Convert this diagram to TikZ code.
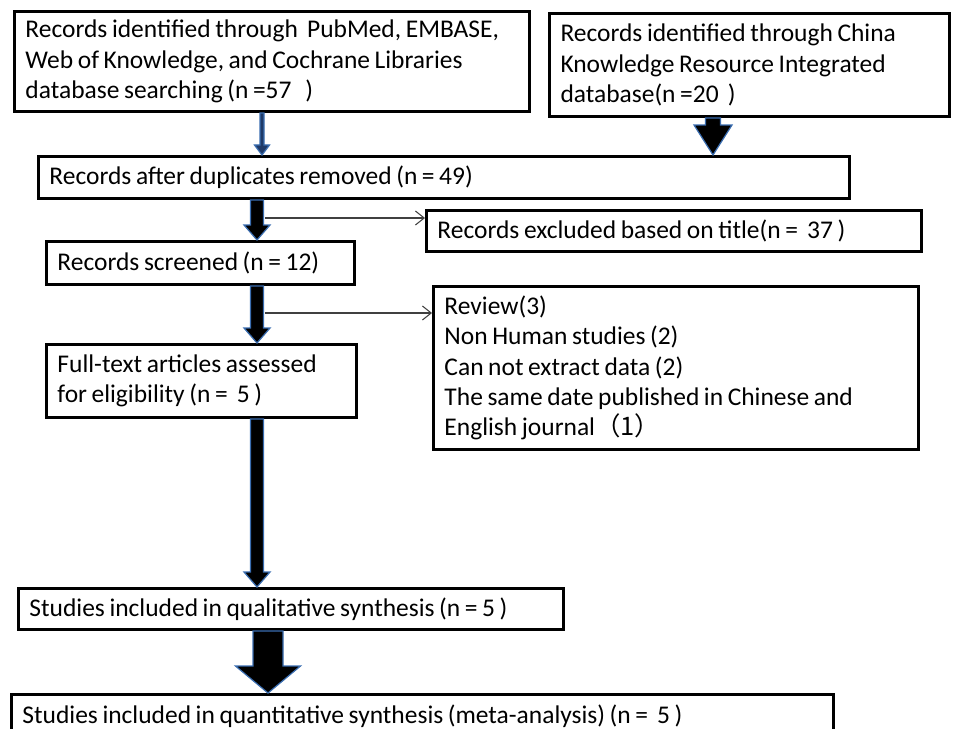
\documentclass[tikz,border=0pt]{standalone}
\usepackage{fontspec}
\setmainfont{Carlito}
\newfontfamily\cjk{Noto Sans CJK SC}
\usetikzlibrary{calc,arrows.meta}

\definecolor{arrowblue}{HTML}{3A6DB0}
\definecolor{arrownavy}{HTML}{1F3A68}

\tikzset{
  box/.style={draw,line width=1.7pt,anchor=north west,align=left,
    inner xsep=0.22cm,inner ysep=2pt,font=\fontsize{14.5}{17.2}\selectfont,
    execute at begin node={\spaceskip=0.18em plus 0.05em minus 0.02em\relax}},
  bigarrow/.style={fill=black,draw=arrowblue,line width=0.7pt,line join=miter},
  side/.style={draw=black!75,line width=0.6pt,-{Straight Barb[length=5pt,width=8pt]}}
}

% block arrow straight down: [style]{from}{to}{half shaft}{half head}{head length}
\newcommand{\blockarrow}[6][]{%
  \path[bigarrow,#1] let \p1=(#2), \p2=(#3) in
    (\x1-#4,\y1) -- (\x1+#4,\y1) -- (\x1+#4,\y2+#6) -- (\x1+#5,\y2+#6)
    -- (\x1,\y2) -- (\x1-#5,\y2+#6) -- (\x1-#4,\y2+#6) -- cycle;}

\begin{document}
\begin{tikzpicture}[x=0.02cm,y=-0.02cm]
\clip (0,0) rectangle (956,729);

\node[box,text width=9.86cm,minimum height=2cm](pub) at (13,10)
  {Records identified through\ \ PubMed, EMBASE,\\Web of Knowledge, and Cochrane Libraries\\database searching (n =57\ \ \ )};
\node[box,text width=7.56cm,minimum height=2.06cm](cnki) at (548,12)
  {Records identified through China\\Knowledge Resource Integrated\\database(n =20\ \ )};
\node[box,text width=15.78cm,minimum height=0.84cm](dup) at (37,155)
  {Records after duplicates removed (n = 49)};
\node[box,text width=9.46cm,minimum height=0.82cm](excl) at (425,209)
  {Records excluded based on title(n =\ \ 37 )};
\node[box,text width=5.72cm,minimum height=0.86cm](scr) at (45,240)
  {Records screened (n = 12)};
\node[box,text width=9.26cm,minimum height=3.26cm](why) at (432,285)
  {Review(3)\\Non Human studies (2)\\Can not extract data (2)\\The same date published in Chinese and\\English journal{\cjk （1）}};
\node[box,text width=5.76cm,minimum height=1.46cm](full) at (45,343)
  {Full-text articles assessed\\for eligibility (n =\ \ 5 )};
\node[box,text width=10.46cm,minimum height=0.82cm](qual) at (17,587)
  {Studies included in qualitative synthesis (n = 5 )};
\node[box,text width=16cm,minimum height=0.86cm](quant) at (10,693)
  {Studies included in quantitative synthesis (meta-analysis) (n =\ \ 5 )};

% columns of the down arrows
\coordinate (cola) at (262,0);
\coordinate (colb) at (713,0);
\coordinate (colm) at (257,0);
\coordinate (colq) at (268,0);

\blockarrow[fill=arrownavy]{pub.south -| cola}{dup.north -| cola}{0.04cm}{0.15cm}{0.2cm}
\blockarrow{cnki.south -| colb}{dup.north -| colb}{0.15cm}{0.38cm}{0.6cm}
\blockarrow{dup.south -| colm}{scr.north -| colm}{0.13cm}{0.26cm}{0.3cm}
\blockarrow{scr.south -| colm}{full.north -| colm}{0.13cm}{0.26cm}{0.3cm}
\blockarrow{full.south -| colm}{qual.north -| colm}{0.13cm}{0.26cm}{0.3cm}
\blockarrow{qual.south -| colq}{quant.north -| colq}{0.3cm}{0.65cm}{0.54cm}

% side arrows to the exclusions
\coordinate (t1) at (265,218);
\coordinate (t2) at (265,313);
\draw[side] (t1) -- (t1 -| excl.west);
\draw[side] (t2) -- (t2 -| why.west);

\end{tikzpicture}
\end{document}
